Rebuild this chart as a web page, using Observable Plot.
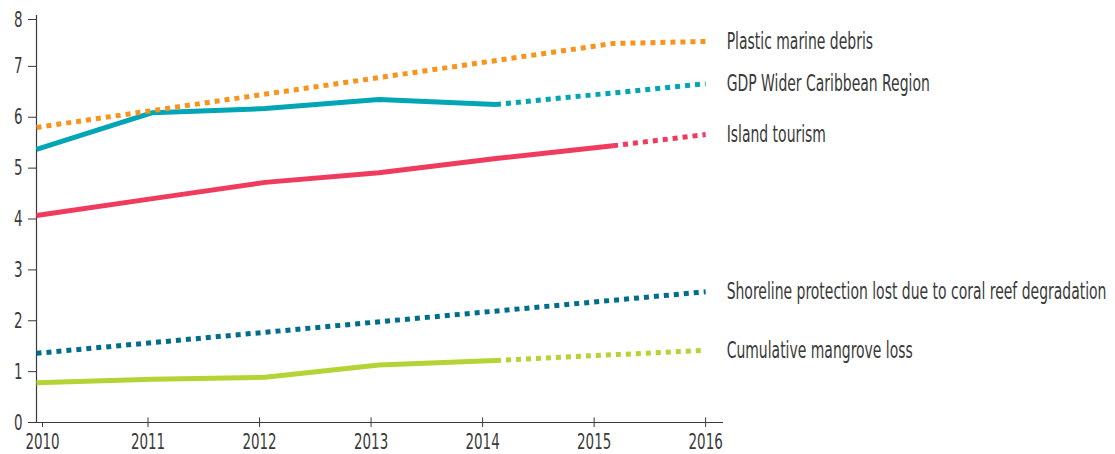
<!DOCTYPE html>
<html>
<head>
<meta charset="utf-8">
<script src="https://cdn.jsdelivr.net/npm/d3@7"></script>
<script src="https://cdn.jsdelivr.net/npm/@observablehq/plot@0.6"></script>
<style>
  html, body { margin: 0; padding: 0; background: #fff; }
  #chart { width: 1115px; height: 454px; }
</style>
</head>
<body>
<div id="chart"></div>
<script>
// Positions along the time axis where each value was read (year units)
const years = [2010, 2011.04, 2012.05, 2013.07, 2014.12, 2015.17, 2016];

// Series values (null = no point at that position)
const plastic   = [5.80, null, null, null, null, 7.45, 7.49];
const gdp       = [5.37, 6.09, 6.17, 6.35, 6.25, null, 6.66];
const island    = [4.07, 4.40, 4.72, 4.91, 5.19, 5.44, 5.66];
const shoreline = [1.36, null, null, null, null, null, 2.57];
const mangrove  = [0.78, 0.85, 0.89, 1.13, 1.22, null, 1.42];

const seriesNames = [
  "Plastic marine debris",
  "GDP Wider Caribbean Region",
  "Island tourism",
  "Shoreline protection lost due to coral reef degradation",
  "Cumulative mangrove loss"
];
const seriesColors = ["#f7941d", "#00a5b6", "#ef3b5e", "#006d8d", "#b4d334"];
const seriesValues = [plastic, gdp, island, shoreline, mangrove];
// last observed position (solid line) per series; afterwards projected (dotted)
const observedUntil = [null, 2014.12, 2015.17, null, 2014.12];

const xTicks = [2010, 2011, 2012, 2013, 2014, 2015, 2016];
const yTicks = [0, 1, 2, 3, 4, 5, 6, 7, 8];

// Build tables
const solidRows = [], dottedRows = [], labelRows = [];
seriesNames.forEach((name, s) => {
  const vals = seriesValues[s];
  const until = observedUntil[s];
  let last = null;
  years.forEach((x, i) => {
    const y = vals[i];
    if (y == null) return;
    if (until != null && x <= until) solidRows.push({series: name, x, y});
    if (until == null || x >= until) dottedRows.push({series: name, x, y});
    last = {series: name, x, y};
  });
  labelRows.push(last);
});

const font = "'DejaVu Sans Condensed', 'Liberation Sans Narrow', sans-serif";
const ink = "#3a3a3a";
const firstX = xTicks[0], lastY = yTicks[yTicks.length - 1];

const chart = Plot.plot({
  width: 1115,
  height: 454,
  marginLeft: 36,
  marginRight: 392,
  marginTop: 15,
  marginBottom: 32,
  style: {fontFamily: font, fontSize: "22px", color: ink, background: "#fff"},
  x: {domain: [2010, 2016.16]},
  y: {domain: [0, 8]},
  color: {domain: seriesNames, range: seriesColors},
  marks: [
    Plot.axisY({ticks: yTicks.filter(d => d !== lastY), tickSize: 8, tickPadding: 6, fontSize: 22, stroke: ink, label: null}),
    Plot.axisY({ticks: [lastY], tickSize: 8, tickPadding: 6, fontSize: 22, stroke: ink, label: null, dy: 4}),
    Plot.axisX({ticks: xTicks.filter(d => d !== firstX), tickSize: 5, tickPadding: 6, fontSize: 22, stroke: ink, tickFormat: d => String(d), label: null}),
    Plot.axisX({ticks: [firstX], tickSize: 5, tickPadding: 6, fontSize: 22, stroke: ink, tickFormat: d => String(d), label: null, dx: 6}),
    Plot.ruleX(xTicks, {x: d => d, y1: 0, y2: 0.09, stroke: ink}),
    Plot.ruleX([2010], {stroke: ink, strokeWidth: 1.2}),
    Plot.ruleY([0], {stroke: ink, strokeWidth: 1.2}),
    Plot.line(solidRows, {x: "x", y: "y", z: "series", stroke: "series", strokeWidth: 5, strokeLinejoin: "round", strokeLinecap: "butt"}),
    Plot.line(dottedRows, {x: "x", y: "y", z: "series", stroke: "series", strokeWidth: 5, strokeDasharray: "5,5", strokeLinecap: "butt", strokeLinejoin: "miter"}),
    Plot.text(labelRows, {x: "x", y: "y", text: "series", textAnchor: "start", dx: 21, fontSize: 23, fill: ink})
  ]
});

document.getElementById("chart").appendChild(chart);

// Condense the glyphs horizontally to imitate the narrow typeface of the original
function squeeze(selection, k) {
  selection.each(function () {
    const t = this.getAttribute("transform");
    const hasXY = this.hasAttribute("x") && +this.getAttribute("x") !== 0;
    if (t != null && !hasXY) {
      this.setAttribute("transform", t + ` scale(${k},1)`);
    } else {
      const w = this.getComputedTextLength();
      this.setAttribute("textLength", (w * k).toFixed(1));
      this.setAttribute("lengthAdjust", "spacingAndGlyphs");
    }
  });
}
const root = d3.select(chart);
squeeze(root.selectAll('g[aria-label="x-axis tick label"] text, g[aria-label="y-axis tick label"] text'), 0.68);
squeeze(root.selectAll('g[aria-label="text"] text'), 0.675);
</script>
</body>
</html>
